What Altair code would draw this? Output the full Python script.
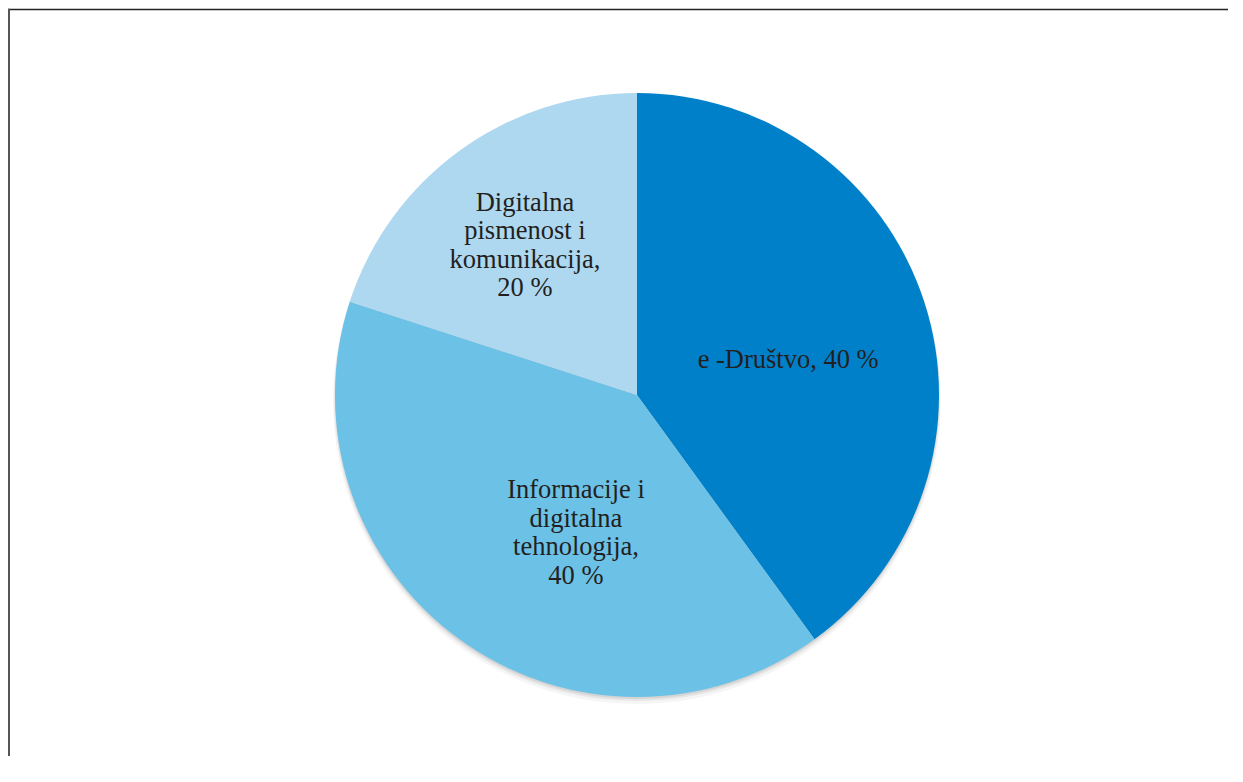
import altair as alt
import pandas as pd

categories = ["e-Društvo", "Informacije i digitalna tehnologija", "Digitalna pismenost i komunikacija"]
values = [40, 40, 20]
labels = ["e -Društvo, 40 %", "Informacije i\ndigitalna\ntehnologija,\n40 %", "Digitalna\npismenost i\nkomunikacija,\n20 %"]
colors = ["#0080C9", "#6BC1E6", "#AED8F0"]

df = pd.DataFrame({"category": categories, "value": values, "label": labels, "idx": list(range(len(categories)))})

CX, CY, R = 619, 377, 302

base = alt.Chart(df)

shadow = alt.layer(*[
    alt.Chart(pd.DataFrame({"v": [1]})).mark_arc(theta=0, theta2=6.2832, radius=R + dr, color="#000", opacity=op)
    .encode(x=alt.value(CX), y=alt.value(CY + dy))
    for dr, dy, op in [(2, 5, 0.04), (1, 3, 0.06), (0, 2, 0.08)]
])

pie = base.mark_arc(radius=R).encode(
    theta=alt.Theta("value:Q", stack=True),
    color=alt.Color("category:N", scale=alt.Scale(domain=categories, range=colors), legend=None),
    order=alt.Order("idx:Q"),
    x=alt.value(CX), y=alt.value(CY),
)

offsets = {categories[0]: (-1, 14), categories[1]: (33, -34), categories[2]: (-18, -63)}
texts = []
for cat in categories:
    ddx, ddy = offsets[cat]
    texts.append(
        base.mark_text(radius=160, font="Liberation Serif", fontSize=26.5, lineHeight=28.5,
                       lineBreak="\n", color="#231f20", align="center", baseline="middle",
                       dx=ddx, dy=ddy)
        .encode(
            theta=alt.Theta("value:Q", stack=True),
            order=alt.Order("idx:Q"),
            text=alt.condition(alt.datum.category == cat, "label:N", alt.value("")),
            x=alt.value(CX), y=alt.value(CY),
        )
    )

frame_df = pd.DataFrame({"v": [1]})
top_line = alt.Chart(frame_df).mark_rule(color="#222", strokeWidth=1.6).encode(
    x=alt.value(-10), x2=alt.value(1210), y=alt.value(-8.5))
left_line = alt.Chart(frame_df).mark_rule(color="#555", strokeWidth=2).encode(
    x=alt.value(-9), y=alt.value(-9.3), y2=alt.value(738))

chart = alt.layer(shadow, pie, *texts, top_line, left_line).properties(
    width=1210, height=750,
    autosize=alt.AutoSizeParams(type="none"),
    padding={"left": 10, "top": 10, "right": 0, "bottom": 0},
).configure_view(stroke=None)

chart.save("out.html", embed_options={"renderer": "svg", "actions": False})
